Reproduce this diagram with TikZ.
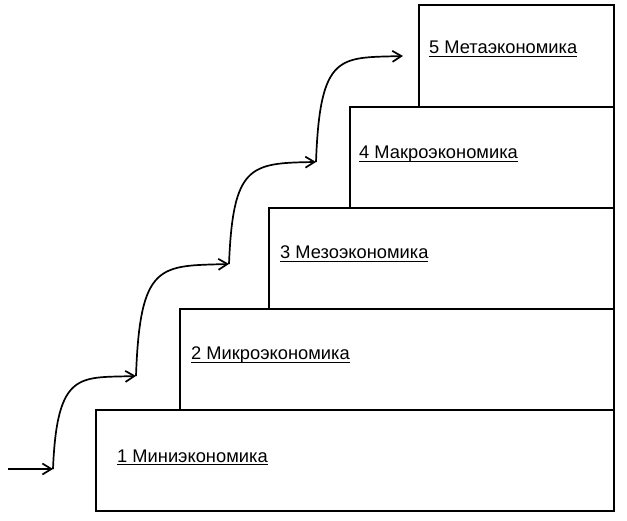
\documentclass[tikz,border=0pt]{standalone}
\usepackage{fontspec}
\setmainfont{Liberation Sans}
\usetikzlibrary{arrows.meta}
\newcommand\myul[1]{\setbox0\hbox{#1}\rlap{\rule[-2.8pt]{\wd0}{1pt}}\box0}
\tikzset{
  box/.style={draw, line width=2.2pt, rectangle, anchor=north west, inner sep=0pt, outer sep=0pt},
  lbl/.style={anchor=base west, inner sep=0pt, font=\fontsize{18.3}{20}\selectfont},
  arr/.style={line width=1.7pt, -{Straight Barb[length=9pt,width=11pt,line width=1.7pt]}}
}
\begin{document}
\begin{tikzpicture}[x=1pt,y=-1pt]
\useasboundingbox (0,0) rectangle (627,521);
% boxes (top to bottom)
\node[box, minimum width=195pt, minimum height=102pt] (b5) at (419,5) {};
\node[box, minimum width=264pt, minimum height=101pt] (b4) at (350,107) {};
\node[box, minimum width=345pt, minimum height=101pt] (b3) at (269,208) {};
\node[box, minimum width=434pt, minimum height=101pt] (b2) at (180,309) {};
\node[box, minimum width=518pt, minimum height=101pt] (b1) at (96,410) {};
% labels
\node[lbl] (t1) at (117,462) {\myul{1 Миниэкономика}};
\node[lbl] (t2) at (191,360) {\myul{2 Микроэкономика}};
\node[lbl] (t3) at (280,259) {\myul{3 Мезоэкономика}};
\node[lbl] (t4) at (359,159) {\myul{4 Макроэкономика}};
\node[lbl] (t5) at (429,54) {\myul{5 Метаэкономика}};
% step points
\coordinate (s) at (8,469);
\coordinate (p0) at (53,469);
\coordinate (p1) at (136,376);
\coordinate (p2) at (229,264);
\coordinate (p3) at (316,162);
\coordinate (p4) at (403,56);
% arrows
\draw[arr] (s) -- (p0);
\draw[arr] (p0) .. controls (57,370) and (80,378) .. (p1);
\draw[arr] (p1) .. controls (140,262) and (160,266) .. (p2);
\draw[arr] (p2) .. controls (233,165) and (250,163) .. (p3);
\draw[arr] (p3) .. controls (320,52) and (340,58) .. (p4);
\end{tikzpicture}
\end{document}
